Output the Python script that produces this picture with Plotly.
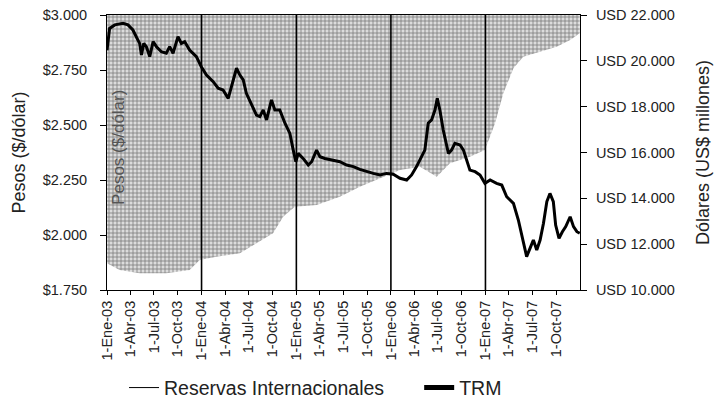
import plotly.graph_objects as go

# ---- data ----
trm_dates = [
    "2003-01-01", "2003-01-11", "2003-01-31", "2003-03-04", "2003-03-23", "2003-04-11",
    "2003-04-27", "2003-05-07", "2003-05-14", "2003-05-23", "2003-06-02", "2003-06-15",
    "2003-06-28", "2003-07-11", "2003-07-30", "2003-08-18", "2003-08-31", "2003-09-13",
    "2003-10-02", "2003-10-15", "2003-10-28", "2003-11-16", "2003-12-12", "2003-12-31",
    "2004-01-20", "2004-02-15", "2004-03-05", "2004-03-24", "2004-04-13", "2004-04-25",
    "2004-05-15", "2004-05-28", "2004-06-10", "2004-06-22", "2004-07-12", "2004-07-31",
    "2004-08-13", "2004-08-26", "2004-09-08", "2004-09-27", "2004-10-10", "2004-10-29",
    "2004-11-18", "2004-12-07", "2004-12-20", "2004-12-30", "2005-01-08", "2005-01-27",
    "2005-02-16", "2005-03-01", "2005-03-20", "2005-04-02", "2005-04-21", "2005-05-23",
    "2005-06-18", "2005-07-14", "2005-08-09", "2005-09-03", "2005-09-29", "2005-10-25",
    "2005-11-20", "2005-12-15", "2006-01-10", "2006-02-05", "2006-03-03", "2006-03-22",
    "2006-04-10", "2006-04-30", "2006-05-12", "2006-05-25", "2006-06-07", "2006-06-20",
    "2006-06-29", "2006-07-09", "2006-07-22", "2006-08-11", "2006-08-23", "2006-09-05",
    "2006-09-25", "2006-10-08", "2006-10-20", "2006-11-02", "2006-11-22", "2006-12-11",
    "2006-12-30", "2007-01-19", "2007-02-13", "2007-03-05", "2007-03-24", "2007-04-19",
    "2007-05-08", "2007-05-27", "2007-06-09", "2007-06-22", "2007-07-05", "2007-07-18",
    "2007-07-31", "2007-08-13", "2007-08-26", "2007-09-07", "2007-09-20", "2007-09-29",
    "2007-10-12", "2007-10-25", "2007-11-07", "2007-11-24", "2007-12-07", "2007-12-20",
    "2007-12-31",
]
trm_values = [
    2.840, 2.939, 2.955, 2.962, 2.955, 2.932,
    2.894, 2.871, 2.818, 2.871, 2.856, 2.811,
    2.879, 2.856, 2.833, 2.826, 2.856, 2.826,
    2.902, 2.871, 2.879, 2.841, 2.811, 2.765,
    2.727, 2.697, 2.667, 2.659, 2.621, 2.674,
    2.758, 2.727, 2.705, 2.644, 2.591, 2.545,
    2.538, 2.568, 2.523, 2.614, 2.568, 2.568,
    2.508, 2.462, 2.386, 2.333, 2.371, 2.348,
    2.318, 2.333, 2.386, 2.356, 2.348, 2.341,
    2.333, 2.318, 2.311, 2.298, 2.288, 2.280,
    2.273, 2.280, 2.276, 2.258, 2.250, 2.273,
    2.311, 2.356, 2.386, 2.508, 2.523, 2.568,
    2.621, 2.568, 2.477, 2.371, 2.386, 2.417,
    2.409, 2.386, 2.341, 2.295, 2.288, 2.273,
    2.235, 2.250, 2.235, 2.227, 2.174, 2.144,
    2.068, 1.962, 1.902, 1.939, 1.977, 1.932,
    1.977, 2.053, 2.152, 2.189, 2.152, 2.045,
    1.985, 2.015, 2.038, 2.083, 2.038, 2.015,
    2.008,
]

res_dates = [
    "2003-01-01", "2003-02-19", "2003-05-07", "2003-08-18", "2003-11-16", "2003-12-25",
    "2004-02-27", "2004-05-28", "2004-07-31", "2004-10-03", "2004-11-11", "2004-12-26",
    "2005-03-20", "2005-06-18", "2005-09-03", "2005-11-20", "2006-02-05", "2006-04-23",
    "2006-06-27", "2006-08-17", "2006-11-02", "2006-12-30", "2007-02-07", "2007-03-11",
    "2007-04-19", "2007-05-27", "2007-07-31", "2007-10-03", "2007-11-24", "2007-12-31",
]
res_values = [
    11164, 10873, 10727, 10727, 10873, 11309,
    11455, 11600, 12036, 12473, 13200, 13636,
    13709, 14073, 14509, 14873, 15236, 15382,
    14945, 15527, 15818, 16109, 17273, 18582,
    19673, 20182, 20400, 20618, 20909, 21200,
]

tick_dates = [
    "2003-01-01", "2003-04-01", "2003-07-01", "2003-10-01",
    "2004-01-01", "2004-04-01", "2004-07-01", "2004-10-01",
    "2005-01-01", "2005-04-01", "2005-07-01", "2005-10-01",
    "2006-01-01", "2006-04-01", "2006-07-01", "2006-10-01",
    "2007-01-01", "2007-04-01", "2007-07-01", "2007-10-01",
]
tick_labels = [
    "1-Ene-03", "1-Abr-03", "1-Jul-03", "1-Oct-03",
    "1-Ene-04", "1-Abr-04", "1-Jul-04", "1-Oct-04",
    "1-Ene-05", "1-Abr-05", "1-Jul-05", "1-Oct-05",
    "1-Ene-06", "1-Abr-06", "1-Jul-06", "1-Oct-06",
    "1-Ene-07", "1-Abr-07", "1-Jul-07", "1-Oct-07",
]
year_lines = ["2004-01-01", "2005-01-01", "2006-01-01", "2007-01-01"]

peso_ticks = [1.75, 2.0, 2.25, 2.5, 2.75, 3.0]
peso_labels = ["$1.750", "$2.000", "$2.250", "$2.500", "$2.750", "$3.000"]
usd_ticks = [10000, 12000, 14000, 16000, 18000, 20000, 22000]
usd_labels = ["USD 10.000", "USD 12.000", "USD 14.000", "USD 16.000",
              "USD 18.000", "USD 20.000", "USD 22.000"]

x_range = ["2003-01-01", "2008-01-01"]
peso_range = [1.75, 3.0]
usd_range = [10000, 22000]

FONT = "Liberation Sans, Arial, sans-serif"
TXT = "#222222"
TICK_SIZE = 14.5
TITLE_SIZE = 18
LEGEND_SIZE = 19.5

fig = go.Figure()

# upper bound of the shaded band (top of the right axis)
fig.add_trace(go.Scatter(
    x=res_dates, y=[usd_range[1]] * len(res_dates), yaxis="y",
    mode="lines", line=dict(width=0, color="rgba(0,0,0,0)"),
    showlegend=False, hoverinfo="skip"))
# reserves: shaded between curve and top
fig.add_trace(go.Scatter(
    x=res_dates, y=res_values, yaxis="y", mode="lines",
    line=dict(width=0, color="rgba(0,0,0,0)"),
    fill="tonexty", fillcolor="#d8d8d8",
    fillpattern=dict(shape="+", fgcolor="#7a7a7a", bgcolor="#dcdcdc",
                     size=4, solidity=0.35, fillmode="replace"),
    showlegend=False, name="Reservas Internacionales"))
# TRM on the pesos axis (overlaying, drawn on top)
fig.add_trace(go.Scatter(
    x=trm_dates, y=trm_values, yaxis="y2", mode="lines",
    line=dict(width=3, color="black"),
    showlegend=False, name="TRM"))

# legend entries
fig.add_trace(go.Scatter(x=[None], y=[None], yaxis="y2", mode="lines",
                         line=dict(width=1, color="black"),
                         name="Reservas Internacionales", legend="legend"))
fig.add_trace(go.Scatter(x=[None], y=[None], yaxis="y2", mode="lines",
                         line=dict(width=5, color="black"), name="TRM",
                         legend="legend2"))

for d in year_lines:
    fig.add_shape(type="line", xref="x", yref="paper", x0=d, x1=d, y0=0, y1=1,
                  line=dict(color="black", width=1.6), layer="above")

fig.add_annotation(text="Pesos ($/dólar)", xref="paper", yref="paper",
                   x=0.023, y=0.52, xanchor="center", yanchor="middle",
                   textangle=-90, showarrow=False,
                   font=dict(family=FONT, size=17, color="#555555"))

legend_common = dict(orientation="h", y=-0.356, yanchor="middle", xanchor="left",
                     font=dict(family=FONT, size=LEGEND_SIZE, color=TXT),
                     bgcolor="rgba(0,0,0,0)", itemwidth=30)

fig.update_layout(
    width=720, height=401,
    margin=dict(l=107, r=140, t=15, b=111, autoexpand=False),
    paper_bgcolor="white", plot_bgcolor="white",
    font=dict(family=FONT, size=TICK_SIZE, color=TXT),
    xaxis=dict(type="date", range=x_range, tickvals=tick_dates, ticktext=tick_labels,
               tickangle=-90, ticks="outside", ticklen=4, tickcolor="black",
               showline=True, linecolor="black", linewidth=1, mirror=True,
               showgrid=False, zeroline=False, automargin=False,
               tickfont=dict(family=FONT, size=TICK_SIZE, color=TXT)),
    yaxis=dict(side="right", range=usd_range, tickvals=usd_ticks, ticktext=usd_labels,
               ticks="outside", ticklen=6, tickcolor="black",
               showline=True, linecolor="black", linewidth=1,
               showgrid=False, zeroline=False, ticklabelstandoff=6, automargin=False,
               title=dict(text="Dólares (US$ millones)", standoff=22,
                          font=dict(family=FONT, size=TITLE_SIZE, color=TXT)),
               tickfont=dict(family=FONT, size=TICK_SIZE, color=TXT)),
    yaxis2=dict(overlaying="y", side="left", range=peso_range, tickvals=peso_ticks,
                ticktext=peso_labels, ticks="outside", ticklen=6, tickcolor="black",
                showline=True, linecolor="black", linewidth=1,
                showgrid=False, zeroline=False, ticklabelstandoff=10, automargin=False,
                title=dict(text="Pesos ($/dólar)", standoff=12,
                           font=dict(family=FONT, size=TITLE_SIZE, color=TXT)),
                tickfont=dict(family=FONT, size=TICK_SIZE, color=TXT)),
    legend=dict(x=0.036, **legend_common),
    legend2=dict(x=0.66, **legend_common),
)

fig.write_html("out.html",
               config={"displayModeBar": False},
               post_script="document.body.style.margin='0px';"
                           "document.body.style.overflow='hidden';")
